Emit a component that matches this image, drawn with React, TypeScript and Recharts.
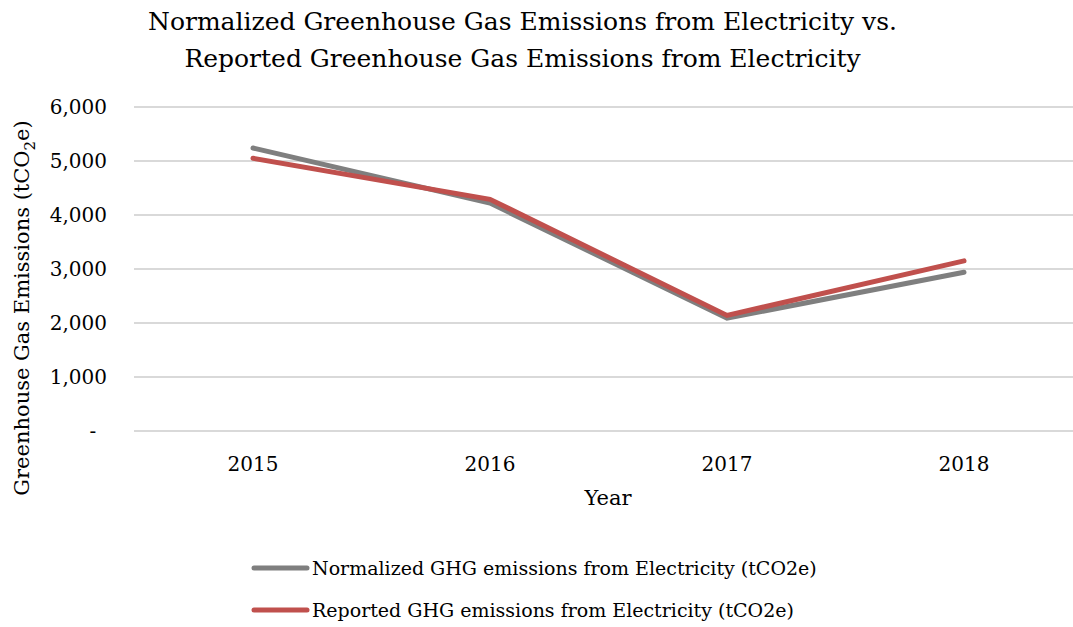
import { LineChart, Line, XAxis, YAxis, CartesianGrid } from 'recharts'

// Emissions by year (tCO2e)
const years = ['2015', '2016', '2017', '2018']
const normalized = [5240, 4220, 2090, 2940]
const reported = [5050, 4290, 2140, 3150]
const yTicks = [0, 1000, 2000, 3000, 4000, 5000, 6000]

const seriesNames = [
  'Normalized GHG emissions from Electricity (tCO2e)',
  'Reported GHG emissions from Electricity (tCO2e)',
]
const seriesColors = ['#7f7f7f', '#c0504d']

const data = years.map((year, i) => ({
  year,
  normalized: normalized[i],
  reported: reported[i],
}))

const FONT = '"DejaVu Serif", "Liberation Serif", serif'

function YTick({ y, payload }: any) {
  const v = payload.value as number
  if (v === 0) {
    return <text x={93} y={y + 7} textAnchor="middle" fontSize={20} fill="#000" fontFamily={FONT}>-</text>
  }
  return (
    <text x={107} y={y + 7} textAnchor="end" fontSize={20} fill="#000" fontFamily={FONT}>
      {v.toLocaleString('en-US')}
    </text>
  )
}

export default function App() {
  return (
    <div style={{ position: 'absolute', left: 0, top: 0, width: 1073, height: 627, overflow: 'hidden', background: '#fff' }}>
      <div style={{ position: 'absolute', left: 0, top: 0, width: 1045, textAlign: 'center', fontFamily: FONT, fontSize: 25, lineHeight: '37px', paddingTop: 3, color: '#000' }}>
        Normalized Greenhouse Gas Emissions from Electricity vs.<br />
        Reported Greenhouse Gas Emissions from Electricity
      </div>
      <svg style={{ position: 'absolute', left: 0, top: 0 }} width={60} height={627}>
        <text transform="translate(29,308) rotate(-90)" textAnchor="middle" fontFamily={FONT} fontSize={21} fill="#000">
          Greenhouse Gas Emissions (tCO<tspan fontSize={15} dy={6}>2</tspan><tspan dy={-6}>e)</tspan>
        </text>
      </svg>
      <div style={{ position: 'absolute', left: 0, top: 0 }}>
        <LineChart width={1085} height={627} data={data} margin={{ top: 107, right: 3, bottom: 116, left: 0 }}>
          <CartesianGrid vertical={false} stroke="#d9d9d9" strokeWidth={2} />
          <XAxis
            dataKey="year"
            height={80}
            padding={{ left: 119, right: 118 }}
            axisLine={{ stroke: '#d9d9d9', strokeWidth: 2 }}
            tickLine={false}
            tick={{ fontSize: 20, fill: '#000', fontFamily: FONT }}
            tickMargin={20}
            label={{ value: 'Year', position: 'insideBottom', offset: 6, fontSize: 21, fill: '#000', fontFamily: FONT }}
          />
          <YAxis
            width={134}
            domain={[0, 6000]}
            ticks={yTicks}
            axisLine={false}
            tickLine={false}
            tick={<YTick />}
          />
          <Line name={seriesNames[0]} dataKey="normalized" stroke={seriesColors[0]} strokeWidth={5} dot={false} isAnimationActive={false} strokeLinecap="round" />
          <Line name={seriesNames[1]} dataKey="reported" stroke={seriesColors[1]} strokeWidth={5} dot={false} isAnimationActive={false} strokeLinecap="round" />
        </LineChart>
      </div>
      <div style={{ position: 'absolute', left: 249, top: 547, fontFamily: FONT, fontSize: 19, color: '#000' }}>
        {seriesNames.map((name, i) => (
          <div key={name} style={{ display: 'flex', alignItems: 'center', height: 42 }}>
            <svg width={62} height={10} style={{ marginRight: 1 }}>
              <line x1={5} y1={5} x2={58} y2={5} stroke={seriesColors[i]} strokeWidth={5} strokeLinecap="round" />
            </svg>
            <span>{name}</span>
          </div>
        ))}
      </div>
    </div>
  )
}
